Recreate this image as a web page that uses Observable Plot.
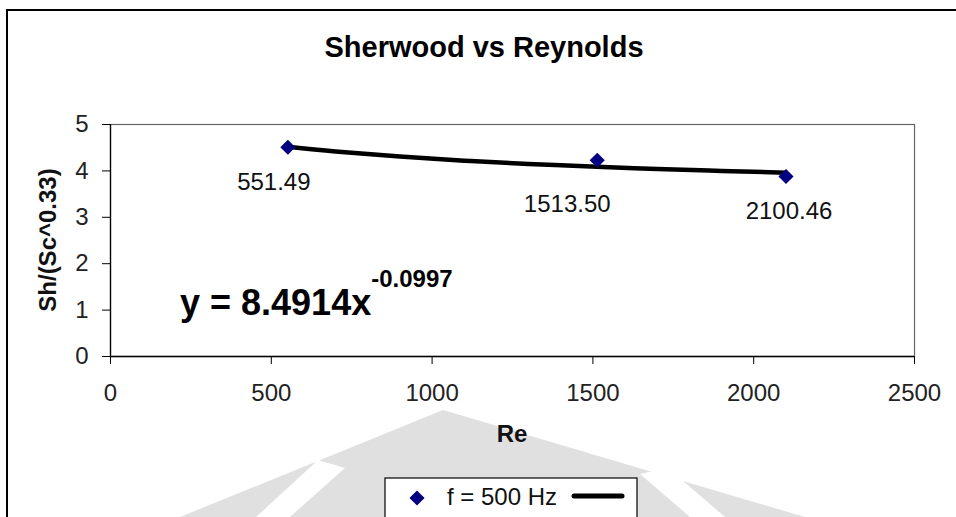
<!DOCTYPE html>
<html>
<head>
<meta charset="utf-8">
<script src="https://cdn.jsdelivr.net/npm/d3@7"></script>
<script src="https://cdn.jsdelivr.net/npm/@observablehq/plot@0.6"></script>
<style>
  html, body { margin: 0; padding: 0; background: #fff; }
  #wrap { position: relative; width: 956px; height: 517px; overflow: hidden; background: #fff; font-family: "Liberation Sans", Arial, sans-serif; }
  #bg, #chart, #overlay { position: absolute; left: 0; top: 0; }
  #overlay, #bg { pointer-events: none; }
</style>
</head>
<body>
<div id="wrap">
  <svg id="bg" width="956" height="517"></svg>
  <div id="chart"></div>
  <svg id="overlay" width="956" height="517" font-family="Liberation Sans, Arial, sans-serif"></svg>
</div>
<script>
// ---- data ----
const title = "Sherwood vs Reynolds";
const xLabel = "Re";
const yLabel = "Sh/(Sc^0.33)";
const seriesName = "f = 500 Hz";
const reynolds = [551.49, 1513.50, 2100.46];
const sherwood = [4.51, 4.23, 3.88];
// power trendline y = 8.4914 x^-0.0997
const trendRe = [551.49, 700, 900, 1100, 1300, 1513.5, 1700, 1900, 2100.46];
const trendSh = [4.52, 4.42, 4.31, 4.22, 4.15, 4.09, 4.04, 4.00, 3.96];
const eqMain = "y = 8.4914x";
const eqExp = "-0.0997";
const xTicks = [0, 500, 1000, 1500, 2000, 2500];
const yTicks = [0, 1, 2, 3, 4, 5];

const points = reynolds.map((re, i) => ({re, sh: sherwood[i], i}));
const trend = trendRe.map((re, i) => ({re, sh: trendSh[i]}));
const fmt = d3.format(".2f");

const labelOffsets = [{dx: -14, dy: 35}, {dx: -30, dy: 44}, {dx: 3, dy: 35}];

// faint page watermark behind the chart (decoration of the scanned page)
const bg = d3.select("#bg");
bg.append("path").attr("d", "M443,410 L805,517 L180,517 Z").attr("fill", "#e0e0e0");
bg.append("path").attr("d", "M256,517 L290,517 L345,468 L318,460 Z").attr("fill", "#fff");
bg.append("path").attr("d", "M690,517 L725,517 L668,468 L640,474 Z").attr("fill", "#fff");

const chart = Plot.plot({
  width: 956,
  height: 517,
  marginLeft: 110,
  marginRight: 42,
  marginTop: 124,
  marginBottom: 161,
  style: {fontFamily: "Liberation Sans, Arial, sans-serif", fontSize: "24px", background: "transparent", color: "#222"},
  x: {domain: [0, 2500], label: null},
  y: {domain: [0, 5], label: null},
  marks: [
    Plot.frame({stroke: "#666", strokeWidth: 1.2, fill: "#fff"}),
    Plot.ruleX([0], {stroke: "#000", strokeWidth: 1.3}),
    Plot.ruleY([0], {stroke: "#000", strokeWidth: 1.3}),
    Plot.axisX({ticks: xTicks, tickFormat: d3.format("d"), tickSize: 8, tickPadding: 19, stroke: "#000", fill: "#222", fontSize: 24, label: null}),
    Plot.axisY({ticks: yTicks, tickFormat: d3.format("d"), tickSize: 8, tickPadding: 14, stroke: "#000", fill: "#222", fontSize: 24, label: null}),
    Plot.line(trend, {x: "re", y: "sh", stroke: "#000", strokeWidth: 4.5, curve: "natural"}),
    Plot.dot(points, {x: "re", y: "sh", symbol: "diamond2", r: 6.8, fill: "#000080", stroke: "none"}),
    ...labelOffsets.map((o, k) =>
      Plot.text(points.filter(d => d.i === k), {x: "re", y: "sh", text: d => fmt(d.re), dx: o.dx, dy: o.dy, fontSize: 24, fill: "#111"})
    )
  ]
});
document.getElementById("chart").appendChild(chart);

// ---- overlay texts: title, axis titles, equation, legend ----
const ov = d3.select("#overlay");
ov.append("path").attr("d", "M7,517 V10 H956").attr("fill", "none").attr("stroke", "#000").attr("stroke-width", 2);
ov.append("text").attr("x", 484).attr("y", 57).attr("text-anchor", "middle")
  .attr("font-size", 29).attr("font-weight", "bold").attr("fill", "#000").text(title);
ov.append("text").attr("x", 512).attr("y", 442).attr("text-anchor", "middle")
  .attr("font-size", 24).attr("font-weight", "bold").attr("fill", "#111").text(xLabel);
ov.append("text").attr("transform", "translate(56,240) rotate(-90)").attr("text-anchor", "middle")
  .attr("font-size", 24).attr("font-weight", "bold").attr("fill", "#111").text(yLabel);
const eq = ov.append("text").attr("x", 180).attr("y", 315).attr("font-weight", "bold").attr("fill", "#000");
eq.append("tspan").attr("font-size", 36).text(eqMain);
eq.append("tspan").attr("font-size", 24).attr("dy", -28).text(eqExp);
// legend
const lg = ov.append("g");
lg.append("rect").attr("x", 385).attr("y", 478).attr("width", 252).attr("height", 60)
  .attr("fill", "#fff").attr("stroke", "#000").attr("stroke-width", 1.2);
lg.append("path").attr("d", d3.symbol(d3.symbolDiamond2, Math.PI * 6.8 * 6.8)()).attr("transform", "translate(417,498)").attr("fill", "#000080");
lg.append("text").attr("x", 447).attr("y", 505).attr("font-size", 24).attr("fill", "#111").text(seriesName);
lg.append("line").attr("x1", 574).attr("x2", 622).attr("y1", 496).attr("y2", 496)
  .attr("stroke", "#000").attr("stroke-width", 5).attr("stroke-linecap", "round");
</script>
</body>
</html>
